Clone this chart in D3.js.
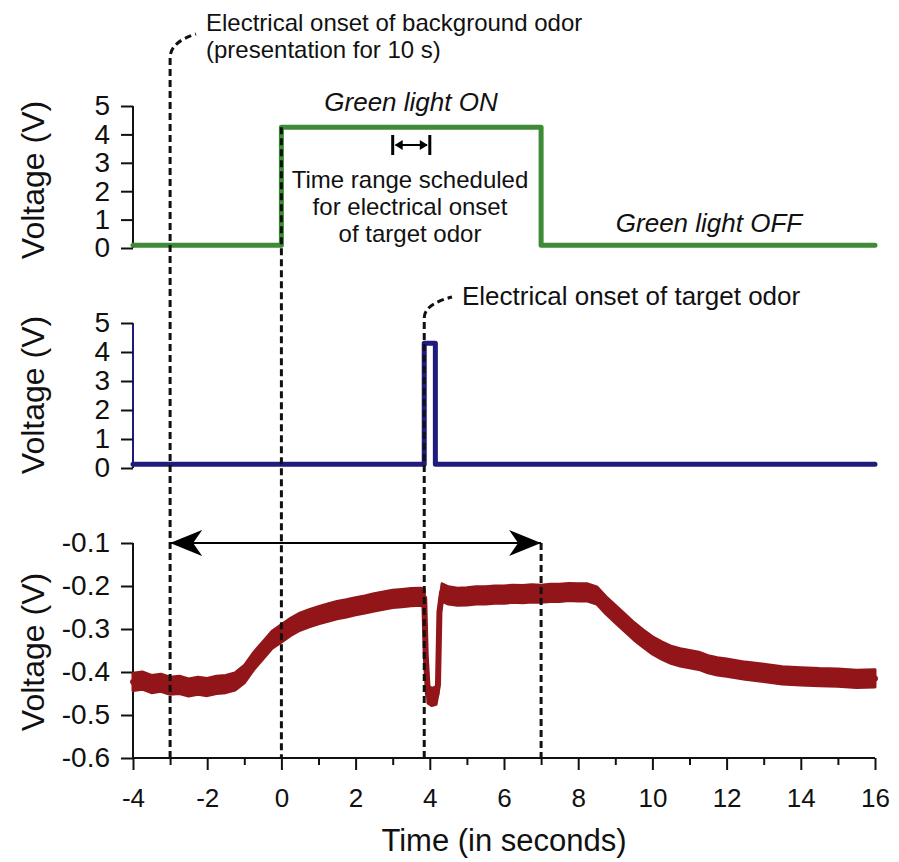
<!DOCTYPE html>
<html>
<head>
<meta charset="utf-8">
<script src="https://cdn.jsdelivr.net/npm/d3@7"></script>
<style>
  body { margin: 0; background: #fff; }
  svg text { font-family: "Liberation Sans", Arial, sans-serif; fill: #111; }
</style>
</head>
<body>
<div id="chart"></div>
<script>
// green light trigger (panel 1)
var greenTime = [-4, 0, 0, 7, 7, 16];
var greenVolt = [0.1, 0.1, 4.25, 4.25, 0.1, 0.1];

// target odor trigger (panel 2)
var blueTime = [-4, 3.85, 3.85, 4.15, 4.15, 16];
var blueVolt = [0.13, 0.13, 4.3, 4.3, 0.13, 0.13];

// recorded signal (panel 3)
var redTime = [-4, -3.75, -3.5, -3.25, -3, -2.75, -2.5, -2.25, -2, -1.75, -1.5, -1.25, -1, -0.75, -0.5, -0.25,
  0, 0.25, 0.5, 0.75, 1, 1.25, 1.5, 1.75, 2, 2.25, 2.5, 2.75, 3, 3.25, 3.5, 3.75, 3.85, 3.89, 3.95, 4.05, 4.17,
  4.22, 4.26, 4.33, 4.5, 4.75, 5, 5.25, 5.5, 5.75, 6, 6.25, 6.5, 6.75, 7, 7.25, 7.5, 7.75, 8, 8.25, 8.5, 8.75,
  9, 9.25, 9.5, 9.75, 10, 10.25, 10.5, 10.75, 11, 11.25, 11.5, 11.75, 12, 12.5, 13, 13.5, 14, 14.5, 15, 15.5, 16];
var redVolt = [-0.423, -0.42, -0.428, -0.425, -0.432, -0.43, -0.436, -0.432, -0.435, -0.43, -0.428, -0.422, -0.405,
  -0.375, -0.35, -0.325, -0.31, -0.295, -0.283, -0.275, -0.268, -0.262, -0.256, -0.252, -0.247, -0.243, -0.238,
  -0.234, -0.23, -0.228, -0.226, -0.225, -0.228, -0.36, -0.452, -0.458, -0.455, -0.43, -0.26, -0.215, -0.222, -0.225,
  -0.224, -0.222, -0.222, -0.22, -0.22, -0.218, -0.219, -0.217, -0.218, -0.216, -0.216, -0.214, -0.215, -0.215,
  -0.222, -0.245, -0.265, -0.285, -0.305, -0.322, -0.338, -0.35, -0.36, -0.366, -0.37, -0.374, -0.382, -0.387,
  -0.39, -0.397, -0.402, -0.408, -0.41, -0.412, -0.413, -0.416, -0.415];
// rough half-thickness of the noisy band, in volts
var redNoise = 0.02;

var xTicks = [-4, -3, -2, -1, 0, 1, 2, 3, 4, 5, 6, 7, 8, 9, 10, 11, 12, 13, 14, 15, 16];
var y1Ticks = [0, 1, 2, 3, 4, 5];
var y3Ticks = [-0.6, -0.5, -0.4, -0.3, -0.2, -0.1];

// event times
var bgOnset = -3;
var lightOn = 0;
var targetOnset = 3.85;
var bgOffset = 7;
var schedStart = 3;
var schedEnd = 4;

var w = 899, h = 862;

var x = d3.scaleLinear().domain([-4, 16]).range([133, 875]);
var y1 = d3.scaleLinear().domain([0, 5]).range([248, 106]);
var y2 = d3.scaleLinear().domain([0, 5]).range([468, 323]);
var y3 = d3.scaleLinear().domain([-0.6, -0.1]).range([758, 543]);

var svg = d3.select("#chart").append("svg")
  .attr("width", w)
  .attr("height", h);

var defs = svg.append("defs");
["arrowEnd", "arrowStart"].forEach(function (id) {
  defs.append("marker")
    .attr("id", id)
    .attr("viewBox", "0 0 32 26")
    .attr("refX", 32)
    .attr("refY", 13)
    .attr("markerWidth", 32)
    .attr("markerHeight", 26)
    .attr("markerUnits", "userSpaceOnUse")
    .attr("orient", id == "arrowEnd" ? "auto" : "auto-start-reverse")
    .append("path")
    .attr("d", "M0,0 L32,13 L0,26 L9,13 Z")
    .attr("fill", "#000");
});

function leftAxis(scale, ticks, fmt) {
  return d3.axisLeft(scale).tickValues(ticks).tickSize(12).tickPadding(11).tickFormat(fmt);
}

function styleAxis(g, size) {
  g.select(".domain").attr("stroke", "#111").attr("stroke-width", 2);
  g.selectAll(".tick line").attr("stroke", "#111").attr("stroke-width", 2);
  g.selectAll(".tick text").attr("font-size", size).attr("fill", "#111")
    .style("font-family", "'Liberation Sans', Arial, sans-serif");
}

// plain hyphen for negatives, like the original
function hyphen(d) { return d.toFixed(1).replace("\u2212", "-"); }

// panel 1 axis
var ax1 = svg.append("g").attr("transform", "translate(133,0)")
  .call(leftAxis(y1, y1Ticks, d3.format("d")));
ax1.select(".domain").attr("d", "M0," + y1(5) + "V" + y1(0));
styleAxis(ax1, 28);

// panel 2 axis (blue spine)
var ax2 = svg.append("g").attr("transform", "translate(133,0)")
  .call(leftAxis(y2, y1Ticks, d3.format("d")));
ax2.select(".domain").attr("d", "M0," + y2(5) + "V" + y2(0));
styleAxis(ax2, 28);
ax2.select(".domain").attr("stroke", "#1c1a7a").attr("stroke-width", 2);

// panel 3 axes
var ax3 = svg.append("g").attr("transform", "translate(133,0)")
  .call(leftAxis(y3, y3Ticks, hyphen));
ax3.select(".domain").attr("d", "M0," + y3(-0.1) + "V" + y3(-0.6));
styleAxis(ax3, 28);

var axX = svg.append("g").attr("transform", "translate(0," + y3(-0.6) + ")")
  .call(d3.axisBottom(x).tickValues(xTicks).tickSize(12).tickPadding(19)
    .tickFormat(function (d) { return d % 2 == 0 ? String(d) : ""; }));
axX.select(".domain").attr("d", "M" + x(-4) + ",0H" + x(16));
styleAxis(axX, 26);
axX.selectAll(".tick line").attr("y2", function (d) { return d % 2 == 0 ? 12 : 7; });

// axis titles
[180, 395, 652].forEach(function (cy) {
  svg.append("text")
    .attr("transform", "translate(44," + cy + ") rotate(-90)")
    .attr("text-anchor", "middle")
    .attr("font-size", 32)
    .text("Voltage (V)");
});
svg.append("text")
  .attr("x", 504).attr("y", 851)
  .attr("text-anchor", "middle")
  .attr("font-size", 31)
  .text("Time (in seconds)");

// traces
var green = d3.line().x(function (d) { return x(d[0]); }).y(function (d) { return y1(d[1]); });
svg.append("path")
  .datum(d3.zip(greenTime, greenVolt))
  .attr("d", green)
  .attr("fill", "none")
  .attr("stroke", "#3d8b37")
  .attr("stroke-width", 5)
  .attr("stroke-linejoin", "round")
  .attr("stroke-linecap", "round");

var blue = d3.line().x(function (d) { return x(d[0]); }).y(function (d) { return y2(d[1]); });
svg.append("path")
  .datum(d3.zip(blueTime, blueVolt))
  .attr("d", blue)
  .attr("fill", "none")
  .attr("stroke", "#1f1c7c")
  .attr("stroke-width", 5)
  .attr("stroke-linejoin", "round")
  .attr("stroke-linecap", "round");

// red signal: noisy band drawn as an area plus a thin core line
var redData = d3.zip(redTime, redVolt);
var redBand = d3.area()
  .x(function (d) { return x(d[0]); })
  .y0(function (d) { return y3(d[1] - redNoise); })
  .y1(function (d) { return y3(d[1] + redNoise); });
svg.append("path")
  .datum(redData)
  .attr("d", redBand)
  .attr("fill", "#921619")
  .attr("stroke", "#921619")
  .attr("stroke-width", 3)
  .attr("stroke-linejoin", "round");
var red = d3.line().x(function (d) { return x(d[0]); }).y(function (d) { return y3(d[1]); });
svg.append("path")
  .datum(redData)
  .attr("d", red)
  .attr("fill", "none")
  .attr("stroke", "#921619")
  .attr("stroke-width", 6)
  .attr("stroke-linejoin", "round")
  .attr("stroke-linecap", "round");

// dashed event lines
var dash = { "stroke": "#111", "stroke-width": 3, "stroke-dasharray": "7,4", "fill": "none" };
function dashed(path) {
  var p = svg.append("path").attr("d", path);
  for (var k in dash) p.attr(k, dash[k]);
  return p;
}
dashed("M" + x(bgOnset) + ",758 V58 Q" + x(bgOnset) + ",42 196,34");
dashed("M" + x(lightOn) + "," + y1(4.25) + " V758");
dashed("M" + x(targetOnset) + ",758 V318 Q" + x(targetOnset) + ",304 452,297");
dashed("M" + x(bgOffset) + "," + y3(-0.1) + " V758");

// 10 s presentation arrow
svg.append("line")
  .attr("x1", x(bgOnset)).attr("y1", y3(-0.1))
  .attr("x2", x(bgOffset)).attr("y2", y3(-0.1))
  .attr("stroke", "#000").attr("stroke-width", 2)
  .attr("marker-start", "url(#arrowStart)")
  .attr("marker-end", "url(#arrowEnd)");

// scheduled time range bracket
var sy = 145;
svg.append("line")
  .attr("x1", x(schedStart) + 3).attr("x2", x(schedEnd) - 3)
  .attr("y1", sy).attr("y2", sy)
  .attr("stroke", "#000").attr("stroke-width", 2);
[schedStart, schedEnd].forEach(function (t) {
  svg.append("line")
    .attr("x1", x(t)).attr("x2", x(t))
    .attr("y1", sy - 10).attr("y2", sy + 10)
    .attr("stroke", "#000").attr("stroke-width", 3);
});
svg.append("path")
  .attr("d", "M" + (x(schedStart) + 2) + "," + sy + " l8,-5 v10 Z M" + (x(schedEnd) - 2) + "," + sy + " l-8,-5 v10 Z")
  .attr("fill", "#000");

// annotations
function label(tx, ty, txt, size, anchor, italic) {
  return svg.append("text")
    .attr("x", tx).attr("y", ty)
    .attr("font-size", size)
    .attr("text-anchor", anchor)
    .attr("font-style", italic ? "italic" : "normal")
    .text(txt);
}
label(206, 31, "Electrical onset of background odor", 24, "start");
label(206, 58, "(presentation for 10 s)", 24, "start");
label(411, 111, "Green light ON", 26, "middle", true);
label(410, 188, "Time range scheduled", 24, "middle");
label(410, 215, "for electrical onset", 24, "middle");
label(410, 242, "of target odor", 24, "middle");
label(709, 232, "Green light OFF", 26, "middle", true);
label(462, 305, "Electrical onset of target odor", 26, "start");
</script>
</body>
</html>
